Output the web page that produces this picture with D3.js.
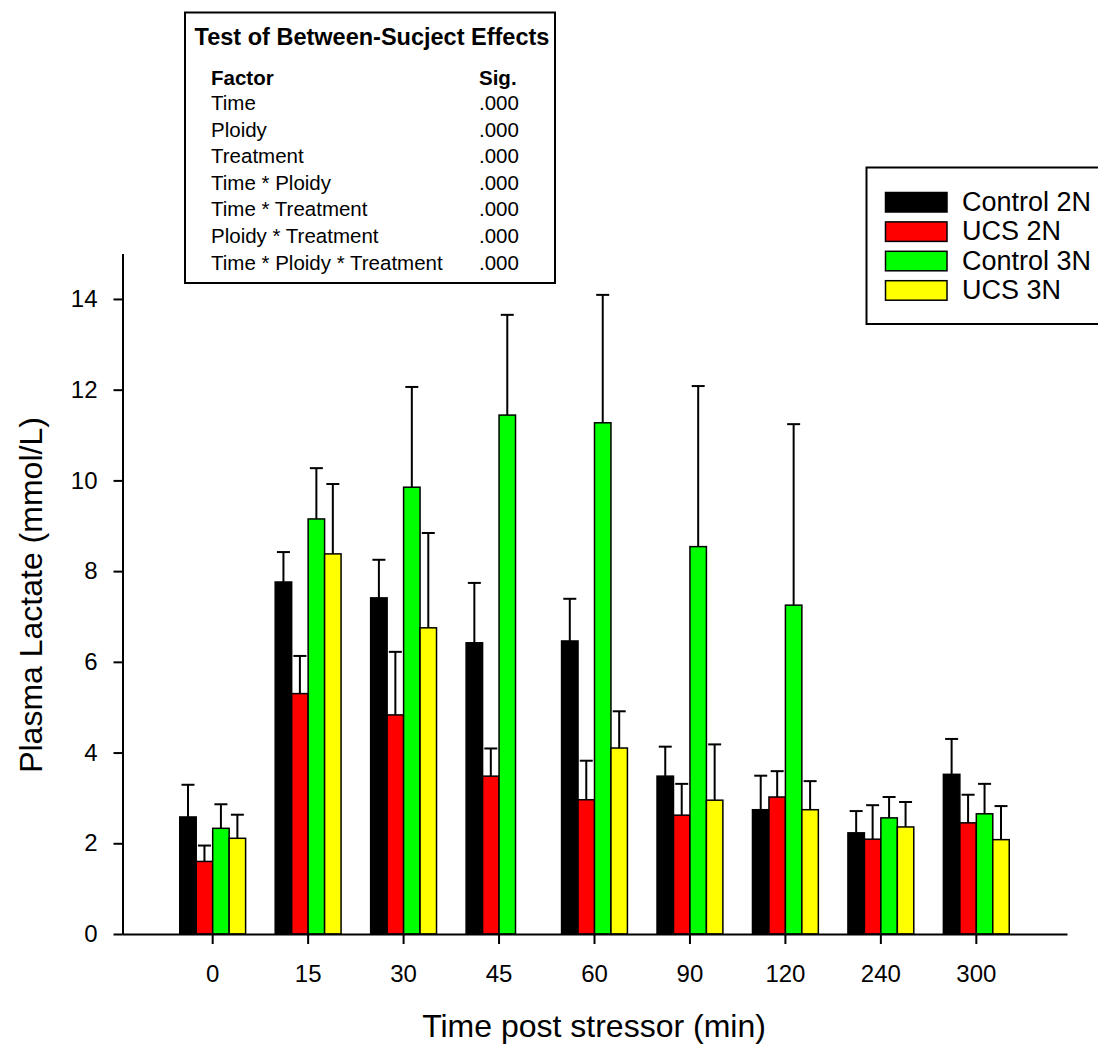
<!DOCTYPE html>
<html>
<head>
<meta charset="utf-8">
<script src="https://cdn.jsdelivr.net/npm/d3@7"></script>
<style>
  html, body { margin: 0; padding: 0; background: #fff; }
  svg { display: block; font-family: "Liberation Sans", Arial, sans-serif; }
</style>
</head>
<body>
<svg id="chart" width="1098" height="1044"></svg>
<script>
// Sampling times (minutes after the stressor)
const timePoints = ["0", "15", "30", "45", "60", "90", "120", "240", "300"];
const seriesNames = ["Control 2N", "UCS 2N", "Control 3N", "UCS 3N"];

// Mean plasma lactate (mmol/L) per group
const control2N = [2.58, 7.76, 7.41, 6.42, 6.46, 3.48, 2.74, 2.23, 3.52];
const ucs2N     = [1.60, 5.30, 4.83, 3.48, 2.96, 2.62, 3.02, 2.09, 2.45];
const control3N = [2.33, 9.15, 9.85, 11.44, 11.27, 8.54, 7.25, 2.56, 2.65];
const ucs3N     = [2.11, 8.38, 6.75, null, 4.10, 2.95, 2.74, 2.36, 2.08];

// Standard errors (upper bars only)
const control2NErr = [0.71, 0.66, 0.84, 1.32, 0.93, 0.65, 0.75, 0.48, 0.78];
const ucs2NErr     = [0.35, 0.83, 1.39, 0.61, 0.86, 0.69, 0.57, 0.75, 0.62];
const control3NErr = [0.53, 1.12, 2.21, 2.21, 2.82, 3.54, 3.99, 0.46, 0.66];
const ucs3NErr     = [0.52, 1.54, 2.09, null, 0.81, 1.23, 0.63, 0.55, 0.74];

const yTickValues = [0, 2, 4, 6, 8, 10, 12, 14];

// Between-subject effects table
const effectFactors = ["Time", "Ploidy", "Treatment", "Time * Ploidy",
  "Time * Treatment", "Ploidy * Treatment", "Time * Ploidy * Treatment"];
const effectSig = [".000", ".000", ".000", ".000", ".000", ".000", ".000"];

const seriesMeans = [control2N, ucs2N, control3N, ucs3N];
const seriesErrs = [control2NErr, ucs2NErr, control3NErr, ucs3NErr];
const palette = ["#000000", "#ff0000", "#00ff00", "#ffff00"];

const svg = d3.select("#chart");

const x = d3.scaleBand()
  .domain(timePoints)
  .range([122, 1067])
  .paddingInner(0.31)
  .paddingOuter(0.605);

const xSub = d3.scaleBand()
  .domain(seriesNames)
  .range([0, x.bandwidth()]);

const y = d3.scaleLinear().domain([0, 15]).range([934, 253.6]);

// Flatten into bar records
const bars = [];
seriesNames.forEach((name, si) => {
  timePoints.forEach((t, ti) => {
    const v = seriesMeans[si][ti];
    if (v == null) return;
    bars.push({ series: name, si, time: t, value: v, err: seriesErrs[si][ti] });
  });
});

const gBars = svg.append("g");

// Error bars: stem from the bar top up to mean + SE, with a cap
const gErr = gBars.append("g")
  .attr("stroke", "#000")
  .attr("stroke-width", 2);

bars.forEach(d => {
  const cx = x(d.time) + xSub(d.series) + xSub.bandwidth() / 2;
  gErr.append("line")
    .attr("x1", cx).attr("x2", cx)
    .attr("y1", y(d.value)).attr("y2", y(d.value + d.err));
  gErr.append("line")
    .attr("x1", cx - 6.5).attr("x2", cx + 6.5)
    .attr("y1", y(d.value + d.err)).attr("y2", y(d.value + d.err));
});

gBars.append("g")
  .selectAll("rect")
  .data(bars)
  .join("rect")
  .attr("x", d => x(d.time) + xSub(d.series))
  .attr("y", d => y(d.value))
  .attr("width", xSub.bandwidth())
  .attr("height", d => y(0) - y(d.value))
  .attr("fill", d => palette[d.si])
  .attr("stroke", "#000")
  .attr("stroke-width", 1.5);

// Axes
const yAxis = svg.append("g")
  .attr("transform", "translate(122.5,0)")
  .call(d3.axisLeft(y).tickValues(yTickValues).tickFormat(d3.format("d"))
    .tickSize(9).tickSizeOuter(0).tickPadding(16));

const xAxis = svg.append("g")
  .attr("transform", "translate(0,934)")
  .call(d3.axisBottom(x).tickSize(10).tickSizeOuter(0).tickPadding(21));

[yAxis, xAxis].forEach(g => {
  g.select(".domain").attr("stroke", "#000").attr("stroke-width", 2);
  g.selectAll(".tick line").attr("stroke", "#000").attr("stroke-width", 2);
  g.selectAll(".tick text")
    .attr("fill", "#000")
    .style("font-size", "24px")
    .style("font-family", "'Liberation Sans', Arial, sans-serif");
});

// Axis titles
svg.append("text")
  .attr("x", 594).attr("y", 1037)
  .attr("text-anchor", "middle")
  .style("font-size", "32px")
  .text("Time post stressor (min)");

svg.append("text")
  .attr("transform", "translate(42,595) rotate(-90)")
  .attr("text-anchor", "middle")
  .style("font-size", "32px")
  .text("Plasma Lactate (mmol/L)");

// Statistics table
const tbl = svg.append("g");
tbl.append("rect")
  .attr("x", 185).attr("y", 12.5).attr("width", 370).attr("height", 270.5)
  .attr("fill", "#fff").attr("stroke", "#000").attr("stroke-width", 2);
tbl.append("text")
  .attr("x", 372).attr("y", 45)
  .attr("text-anchor", "middle")
  .style("font-size", "23.5px").style("font-weight", "bold")
  .text("Test of Between-Sucject Effects");
tbl.append("text")
  .attr("x", 211).attr("y", 85)
  .style("font-size", "20.5px").style("font-weight", "bold")
  .text("Factor");
tbl.append("text")
  .attr("x", 479).attr("y", 85)
  .style("font-size", "20.5px").style("font-weight", "bold")
  .text("Sig.");
effectFactors.forEach((f, i) => {
  const by = 110 + i * 26.6;
  tbl.append("text").attr("x", 211).attr("y", by)
    .style("font-size", "20.5px").text(f);
  tbl.append("text").attr("x", 479).attr("y", by)
    .style("font-size", "20.5px").text(effectSig[i]);
});

// Legend
const lg = svg.append("g");
lg.append("rect")
  .attr("x", 866.5).attr("y", 167.5).attr("width", 240).attr("height", 156.5)
  .attr("fill", "#fff").attr("stroke", "#000").attr("stroke-width", 2);
seriesNames.forEach((name, i) => {
  const ry = 192.5 + i * 29.4;
  lg.append("rect")
    .attr("x", 885.5).attr("y", ry).attr("width", 61.5).attr("height", 19.5)
    .attr("fill", palette[i]).attr("stroke", "#000").attr("stroke-width", 1.5);
  lg.append("text")
    .attr("x", 962).attr("y", ry + 18.5)
    .style("font-size", "27px")
    .text(name);
});
</script>
</body>
</html>
